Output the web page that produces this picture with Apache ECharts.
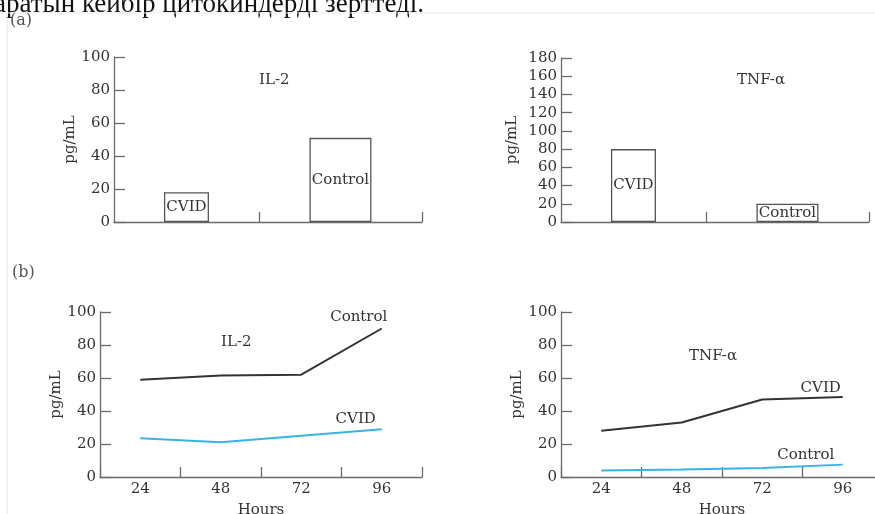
<!DOCTYPE html>
<html>
<head>
<meta charset="utf-8">
<script src="https://cdn.jsdelivr.net/npm/echarts@6/dist/echarts.min.js"></script>
<style>html,body{margin:0;padding:0;background:#fff}#c{width:875px;height:514px}</style>
</head>
<body>
<div id="c"></div>
<script>
// ---- data ----
const barCategories = ['CVID', 'Control'];
const il2BarValues = [18, 51];
const tnfBarValues = [80, 20];
const hours = ['24', '48', '72', '96'];
const il2Control = [59, 61.5, 62, 90];
const il2Cvid = [23.5, 21, 25, 29];
const tnfCvid = [28, 33, 47, 48.5];
const tnfControl = [4, 4.5, 5.5, 7.5];

// ---- layout helpers ----
const FONT = 'DejaVu Serif';
const AXIS = '#6a6a6a';
const TXT = '#333';
const BAR_SLOT = [4, 12.5];      // bar centres on a 0..17 x-scale
const BAR_W = [45, 62];

const chart = echarts.init(document.getElementById('c'));

function yAxis(grid, max, interval, gap) {
  return {
    type: 'value', gridIndex: grid, min: 0, max: max, interval: interval,
    name: 'pg/mL', nameLocation: 'middle', nameGap: gap, nameRotate: 90,
    nameTextStyle: {fontFamily: FONT, fontSize: 15, color: TXT},
    axisLine: {show: true, lineStyle: {color: AXIS, width: 1.3}},
    axisTick: {show: true, inside: true, length: 11, lineStyle: {color: AXIS, width: 1.3}},
    axisLabel: {fontFamily: FONT, fontSize: 15, color: TXT, margin: 4},
    splitLine: {show: false}
  };
}
function barX(grid, show) {
  return {
    type: 'value', gridIndex: grid, min: 0, max: 17, show: show,
    axisLine: {show: true, lineStyle: {color: AXIS, width: 1.3}},
    axisTick: {show: true, inside: true, length: 10, customValues: [8, 17], lineStyle: {color: AXIS, width: 1.3}},
    axisLabel: {show: false},
    splitLine: {show: false}
  };
}
function lineX(grid) {
  return {
    type: 'category', gridIndex: grid, data: hours, boundaryGap: true,
    name: 'Hours', nameLocation: 'middle', nameGap: 26,
    nameTextStyle: {fontFamily: FONT, fontSize: 15, color: TXT},
    axisLine: {show: true, lineStyle: {color: AXIS, width: 1.3}},
    axisTick: {show: true, inside: true, length: 10, lineStyle: {color: AXIS, width: 1.3}},
    axisLabel: {fontFamily: FONT, fontSize: 15, color: TXT, margin: 5},
    splitLine: {show: false}
  };
}
function barSeries(xi, yi, idx, values) {
  return {
    type: 'bar', xAxisIndex: xi, yAxisIndex: yi, barWidth: BAR_W[idx],
    data: [[BAR_SLOT[idx], values[idx]]],
    itemStyle: {color: '#fff', borderColor: '#555', borderWidth: 1.3},
    label: {show: true, position: 'inside', formatter: barCategories[idx],
      fontFamily: FONT, fontSize: 15, color: '#333'},
    silent: true, animation: false
  };
}
function lineSeries(xi, yi, values, color, name, off) {
  return {
    type: 'line', xAxisIndex: xi, yAxisIndex: yi,
    data: values.map((v, i) => ({value: v, label: {show: i === values.length - 1}})),
    showSymbol: true, symbol: 'circle', symbolSize: 1,
    itemStyle: {opacity: 0},
    lineStyle: {color: color, width: 2},
    label: {show: false, position: 'top', distance: 4, formatter: name, offset: off,
      fontFamily: FONT, fontSize: 15, color: '#333', opacity: 1},
    silent: true, animation: false
  };
}

const gridBase = {outerBoundsMode: 'none', containLabel: false};
chart.setOption({
  animation: false,
  grid: [
    Object.assign({left: 114, top: 57, width: 308, height: 165}, gridBase),
    Object.assign({left: 561, top: 58, width: 308, height: 164}, gridBase),
    Object.assign({left: 100, top: 312, width: 322, height: 165}, gridBase),
    Object.assign({left: 561, top: 312, width: 322, height: 165}, gridBase)
  ],
  xAxis: [barX(0, true), barX(0, false), barX(1, true), barX(1, false), lineX(2), lineX(3)],
  yAxis: [yAxis(0, 100, 20, 33), yAxis(1, 180, 20, 41), yAxis(2, 100, 20, 29), yAxis(3, 100, 20, 33)],
  title: [
    {text: 'IL-2', left: 254, top: 68, textStyle: {fontFamily: FONT, fontSize: 15, fontWeight: 'normal', color: '#333'}},
    {text: 'TNF-α', left: 732, top: 68, textStyle: {fontFamily: FONT, fontSize: 15, fontWeight: 'normal', color: '#333'}},
    {text: 'IL-2', left: 216, top: 330, textStyle: {fontFamily: FONT, fontSize: 15, fontWeight: 'normal', color: '#333'}},
    {text: 'TNF-α', left: 684, top: 344, textStyle: {fontFamily: FONT, fontSize: 15, fontWeight: 'normal', color: '#333'}}
  ],
  series: [
    barSeries(0, 0, 0, il2BarValues),
    barSeries(1, 0, 1, il2BarValues),
    barSeries(2, 1, 0, tnfBarValues),
    barSeries(3, 1, 1, tnfBarValues),
    lineSeries(4, 2, il2Control, '#333333', 'Control', [-23, 1]),
    lineSeries(4, 2, il2Cvid, '#33b5e8', 'CVID', [-26, 2]),
    lineSeries(5, 3, tnfCvid, '#333333', 'CVID', [-22, 3]),
    lineSeries(5, 3, tnfControl, '#33b5e8', 'Control', [-37, 2])
  ],
  graphic: [
    {type: 'line', shape: {x1: 7, y1: 13, x2: 875, y2: 13}, style: {stroke: '#ececec', lineWidth: 1}, silent: true},
    {type: 'line', shape: {x1: 7, y1: 13, x2: 7, y2: 514}, style: {stroke: '#e4e4e4', lineWidth: 1}, silent: true},
    {type: 'text', left: -6, top: -9, silent: true, z: -1,
      style: {text: 'аратын кейбір цитокиндерді зерттеді.', font: '27px "Liberation Serif"', fill: '#111'}},
    {type: 'text', left: 10, top: 13, silent: true,
      style: {text: '(a)', font: '16px "DejaVu Serif"', fill: '#555'}},
    {type: 'text', left: 12, top: 265, silent: true,
      style: {text: '(b)', font: '16px "DejaVu Serif"', fill: '#555'}}
  ]
});
</script>
</body>
</html>
